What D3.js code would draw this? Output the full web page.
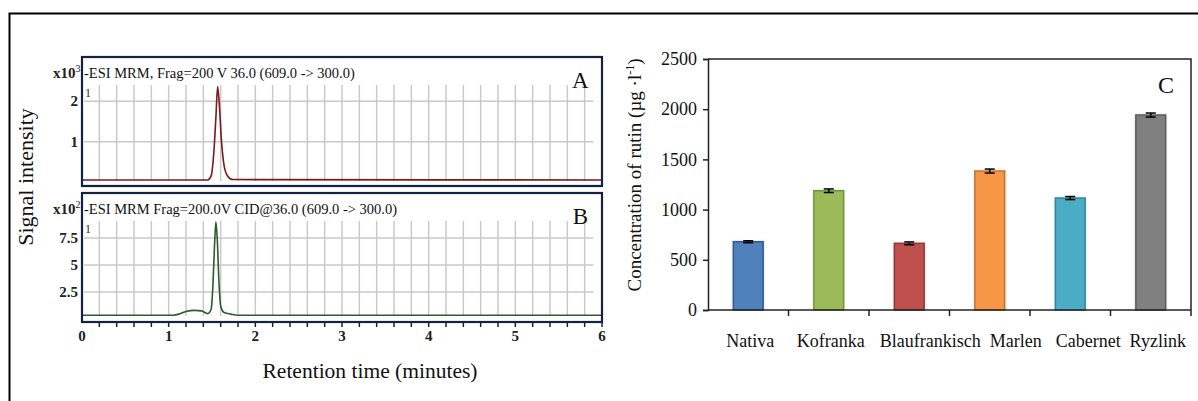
<!DOCTYPE html>
<html><head><meta charset="utf-8">
<script src="https://cdn.jsdelivr.net/npm/d3@7"></script>
<style>body{margin:0;background:#fff}svg{display:block}text{font-family:"Liberation Serif","Times New Roman",serif}</style>
</head><body><svg id="c" width="1198" height="401"></svg>
<script>
// ---------- data ----------
const timeTicks = [0,1,2,3,4,5,6];
const traceA_time = [0,1.45,1.49,1.52,1.545,1.565,1.585,1.61,1.64,1.68,1.74,6];
const traceA_val  = [0.05,0.05,0.15,0.7,1.6,2.37,1.9,1.0,0.4,0.15,0.06,0.05];
const ticksA = [1,2];
const traceB_time = [0,1.05,1.12,1.2,1.3,1.38,1.45,1.49,1.51,1.53,1.545,1.56,1.58,1.6,1.64,1.72,1.8,6];
const traceB_val  = [0.35,0.35,0.45,0.7,0.8,0.75,0.5,0.9,3,7,9.0,7.5,3.5,1.2,0.6,0.45,0.35,0.35];
const ticksB = [2.5,5,7.5];
const ticksBLabels = ["2.5","5","7.5"];
const varieties = ["Nativa","Kofranka","Blaufrankisch","Marlen","Cabernet","Ryzlink"];
const rutin = [680,1188,664,1384,1115,1942];
const rutinErr = [10,18,14,20,15,20];
const concTicks = [0,500,1000,1500,2000,2500];

// ---------- styles ----------
const fills = ["#4f81bd","#9bbb59","#c0504d","#f79646","#4bacc6","#808080"];
const strokes = ["#2d5a8e","#76923c","#8c3836","#c0742f","#31859c","#5a5a5a"];
const labelShift = [2,2,21,26,18,7];
const navy = "#14213f";

const svg = d3.select("#c");
svg.append("rect").attr("x",9.5).attr("y",13.5).attr("width",1210).attr("height",420)
  .attr("fill","none").attr("stroke","#000").attr("stroke-width",2);

// ---------- chromatograms ----------
const x = d3.scaleLinear().domain([0,6]).range([82,602]);
const minor = d3.range(0.2,6.0001,0.2).map(v=>+v.toFixed(1));

function panel(top,bottom,yDomain,times,vals,ticks,tickLabels,color,title,exp,letter,gridTop,baseY){
  const y = d3.scaleLinear().domain(yDomain).range([bottom,top]);
  const g = svg.append("g");
  g.selectAll(".vg").data(minor.filter(v=>v<6)).enter().append("line")
    .attr("x1",d=>x(d)).attr("x2",d=>x(d)).attr("y1",gridTop).attr("y2",baseY)
    .attr("stroke","#c9c9c9").attr("stroke-width",1.5);
  g.selectAll(".hg").data(ticks).enter().append("line")
    .attr("x1",x(0)+2).attr("x2",x(5.9)).attr("y1",d=>y(d)).attr("y2",d=>y(d))
    .attr("stroke","#c9c9c9").attr("stroke-width",1.5);
  const pts = times.map((t,i)=>[t,vals[i]]);
  g.append("path").datum(pts)
    .attr("d",d3.line().x(d=>x(d[0])).y(d=>y(d[1])).curve(d3.curveMonotoneX))
    .attr("fill","none").attr("stroke",color).attr("stroke-width",1.6);
  g.append("rect").attr("x",x(0)).attr("y",top).attr("width",x(6)-x(0)).attr("height",bottom-top)
    .attr("fill","none").attr("stroke",navy).attr("stroke-width",2.2);
  g.selectAll(".yl").data(ticks).enter().append("text")
    .attr("x",78).attr("y",d=>y(d)+5).attr("text-anchor","end")
    .attr("font-size",15).attr("font-weight","bold").attr("fill","#222")
    .text((d,i)=>tickLabels[i]);
  const ex = g.append("text").attr("x",53).attr("y",top+21).attr("font-size",15).attr("font-weight","bold").attr("fill","#222");
  ex.append("tspan").text("x10");
  ex.append("tspan").attr("dy",-6).attr("font-size",10).attr("font-weight","normal").text(exp);
  g.append("text").attr("x",84).attr("y",top+21).attr("font-size",14.5).attr("fill","#111").text(title);
  g.append("text").attr("x",85).attr("y",gridTop+12).attr("font-size",12).attr("fill","#333").text("1");
  g.append("text").attr("x",x(5.75)).attr("y",top+31).attr("text-anchor","middle").attr("font-size",23).attr("fill","#111").text(letter);
  return y;
}
panel(57,186,[-0.1,3.1],traceA_time,traceA_val,ticksA,ticksA.map(String),"#7a1a1a",
  "-ESI MRM, Frag=200 V 36.0 (609.0 -> 300.0)","3","A",85,181);
panel(193,322,[-0.28,11.67],traceB_time,traceB_val,ticksB,ticksBLabels,"#2f5a2f",
  "-ESI MRM Frag=200.0V CID@36.0 (609.0 -> 300.0)","2","B",221,316);

const xa = svg.append("g").attr("transform","translate(0,322)");
xa.selectAll(".mt").data(minor).enter().append("line")
  .attr("x1",d=>x(d)).attr("x2",d=>x(d)).attr("y1",0).attr("y2",5).attr("stroke",navy).attr("stroke-width",1.5);
xa.selectAll(".tl").data(timeTicks).enter().append("text")
  .attr("x",d=>x(d)).attr("y",19).attr("text-anchor","middle").attr("font-size",15).attr("font-weight","bold").attr("fill","#222")
  .text(d=>d);
svg.append("text").attr("x",370).attr("y",378).attr("text-anchor","middle").attr("font-size",21.5).attr("fill","#111")
  .text("Retention time (minutes)");
svg.append("text").attr("transform","translate(33,177) rotate(-90)").attr("text-anchor","middle").attr("font-size",22).attr("fill","#111")
  .text("Signal intensity");

// ---------- bar chart ----------
const bx = d3.scaleBand().domain(varieties).range([708,1191]).paddingInner(0).paddingOuter(0);
const by = d3.scaleLinear().domain([0,2500]).range([310,59]);
const bw = bx.bandwidth()*0.37;
const bg = svg.append("g");
bg.append("path").attr("d",`M708,${by(2500)}H1191V${by(0)}`).attr("fill","none").attr("stroke","#222").attr("stroke-width",1.5);
varieties.forEach((v,i)=>{
  const cx = bx(v)+bx.bandwidth()/2;
  bg.append("rect").attr("x",cx-bw/2-2).attr("y",by(rutin[i])-2).attr("width",bw+4).attr("height",by(0)-by(rutin[i])+2)
    .attr("fill","#f2f2f2");
  bg.append("rect").attr("x",cx-bw/2).attr("y",by(rutin[i])).attr("width",bw).attr("height",by(0)-by(rutin[i]))
    .attr("fill",fills[i]).attr("stroke",strokes[i]).attr("stroke-width",1.5);
  const e1 = by(rutin[i]+rutinErr[i]), e0 = by(rutin[i]-rutinErr[i]);
  bg.append("line").attr("x1",cx).attr("x2",cx).attr("y1",e1).attr("y2",e0).attr("stroke","#000").attr("stroke-width",1.5);
  [e1,e0].forEach(yy=>bg.append("line").attr("x1",cx-5).attr("x2",cx+5).attr("y1",yy).attr("y2",yy).attr("stroke","#000").attr("stroke-width",1.5));
  bg.append("text").attr("x",cx+labelShift[i]).attr("y",347).attr("text-anchor","middle").attr("font-size",18).attr("fill","#111").text(v);
});
const yax = bg.append("g").attr("transform","translate(708,0)")
  .call(d3.axisLeft(by).tickValues(concTicks).tickFormat(d3.format("d")).tickSize(5).tickPadding(6))
  .attr("font-family","Liberation Serif").attr("font-size",18);
yax.select(".domain").attr("stroke","#222").attr("stroke-width",1.5);
yax.selectAll(".tick line").attr("stroke","#222").attr("stroke-width",1.5);
yax.selectAll(".tick text").attr("font-size",18).attr("fill","#111").attr("font-family","Liberation Serif");
bg.append("line").attr("x1",708).attr("x2",1191).attr("y1",310).attr("y2",310).attr("stroke","#222").attr("stroke-width",1.5);
bg.selectAll(".bt").data(varieties.slice(1).concat(["end"])).enter().append("line")
  .attr("x1",(d,i)=>bx.range()[0]+bx.bandwidth()*(i+1)).attr("x2",(d,i)=>bx.range()[0]+bx.bandwidth()*(i+1))
  .attr("y1",310).attr("y2",316).attr("stroke","#222").attr("stroke-width",1.5);
bg.append("text").attr("x",1166).attr("y",93).attr("text-anchor","middle").attr("font-size",24).attr("fill","#111").text("C");
const yt = bg.append("text").attr("transform","translate(641,175) rotate(-90)").attr("text-anchor","middle").attr("font-size",19).attr("fill","#111");
yt.append("tspan").text("Concentration of rutin (µg ·l");
yt.append("tspan").attr("dy",-7).attr("font-size",12).text("-1");
yt.append("tspan").attr("dy",7).text(")");
</script></body></html>
